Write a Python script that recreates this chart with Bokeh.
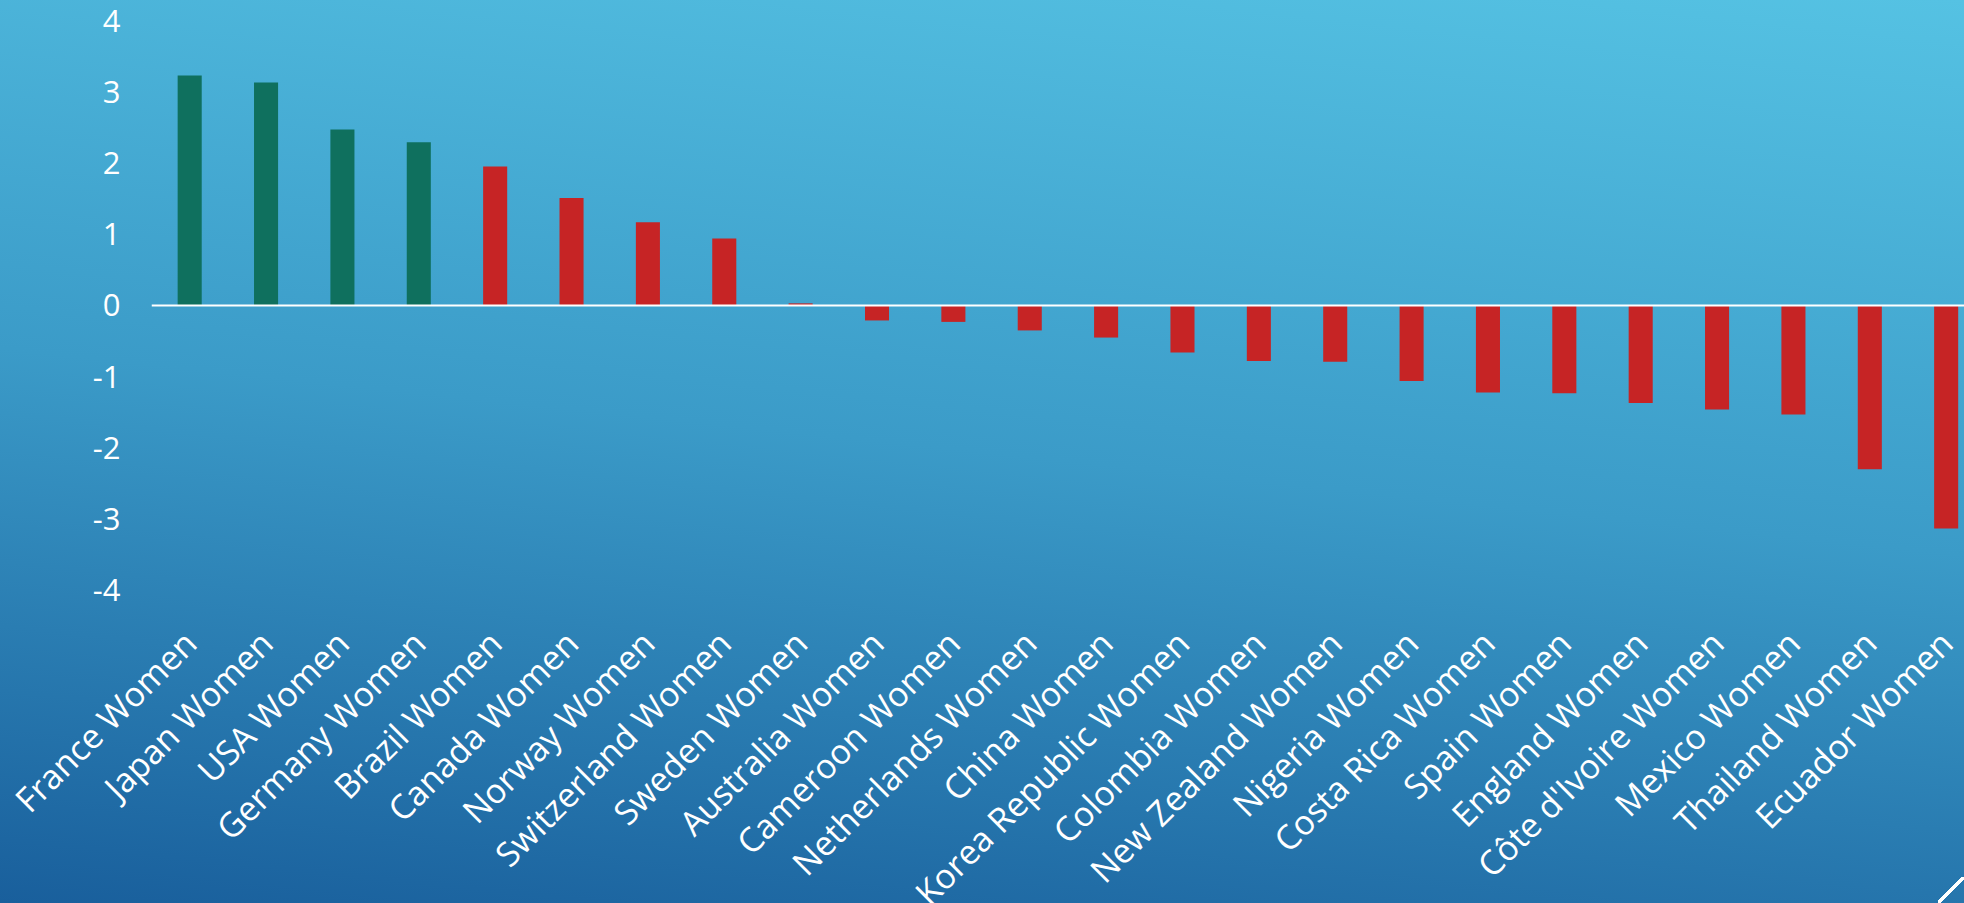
from bokeh.plotting import figure
from bokeh.models import FixedTicker, Span, Range1d, GlobalInlineStyleSheet, ColumnDataSource
from bokeh.embed import file_html
from bokeh.resources import INLINE

teams = ["France Women", "Japan Women", "USA Women", "Germany Women", "Brazil Women",
         "Canada Women", "Norway Women", "Switzerland Women", "Sweden Women",
         "Australia Women", "Cameroon Women", "Netherlands Women", "China Women",
         "Korea Republic Women", "Colombia Women", "New Zealand Women", "Nigeria Women",
         "Costa Rica Women", "Spain Women", "England Women", "Côte d'Ivoire Women",
         "Mexico Women", "Thailand Women", "Ecuador Women"]
score = [3.23, 3.13, 2.47, 2.29, 1.95, 1.51, 1.17, 0.94, 0.03, -0.21, -0.23, -0.35,
         -0.45, -0.66, -0.78, -0.79, -1.06, -1.22, -1.23, -1.37, -1.46, -1.53, -2.30, -3.13]
group = ["top", "top", "top", "top", "other", "other", "other", "other", "other",
         "other", "other", "other", "other", "other", "other", "other", "other",
         "other", "other", "other", "other", "other", "other", "other"]
y_ticks = [-4, -3, -2, -1, 0, 1, 2, 3, 4]
y_labels = ["-4", "-3", "-2", "-1", "0", "1", "2", "3", "4"]

palette = {"top": "#0f705e", "other": "#c62425"}
FONT = "Open Sans"

idx = list(range(len(teams)))
src = ColumnDataSource(dict(x=idx, top=score, color=[palette[g] for g in group]))

css = GlobalInlineStyleSheet(css="""
html, body { overflow: hidden; }
html {
  height: 100%;
  background:
    linear-gradient(to top left, transparent calc(50% - 1.6px), #ffffff calc(50% - 1.6px),
                    #ffffff calc(50% + 1.6px), transparent calc(50% + 1.6px)) right bottom / 26px 26px no-repeat,
    linear-gradient(186deg, #55c2e3 0%, #3b9bc8 50%, #195f9c 100%) no-repeat;
}
body { background: transparent; }
""")

p = figure(frame_width=1813, frame_height=608, output_backend="svg", toolbar_location=None,
           x_range=Range1d(-0.5, 23.24), y_range=Range1d(-4.253, 4.281),
           min_border_left=151, min_border_right=0, min_border_top=0, min_border_bottom=295)
p.stylesheets = [css]
p.background_fill_alpha = 0
p.border_fill_alpha = 0
p.outline_line_color = None
p.grid.visible = False

p.vbar(x="x", top="top", bottom=0, width=0.315, fill_color="color", line_color=None, source=src)
p.add_layout(Span(location=0, dimension="width", line_color="white", line_width=2))

xa = p.xaxis[0]
xa.ticker = FixedTicker(ticks=idx)
xa.major_label_overrides = {i: t for i, t in enumerate(teams)}
xa.major_label_orientation = 0.785398
xa.axis_line_color = None
xa.major_tick_line_color = None
xa.minor_tick_line_color = None
xa.major_label_text_color = "white"
xa.major_label_text_font = FONT
xa.major_label_text_font_size = "34px"
xa.major_label_standoff = 22

ya = p.yaxis[0]
ya.ticker = FixedTicker(ticks=y_ticks)
ya.major_label_overrides = {t: s for t, s in zip(y_ticks, y_labels)}
ya.axis_line_color = None
ya.major_tick_line_color = None
ya.minor_tick_line_color = None
ya.major_label_text_color = "white"
ya.major_label_text_font = FONT
ya.major_label_text_font_size = "31px"
ya.major_label_standoff = 25

open("out.html", "w").write(file_html(p, INLINE))
